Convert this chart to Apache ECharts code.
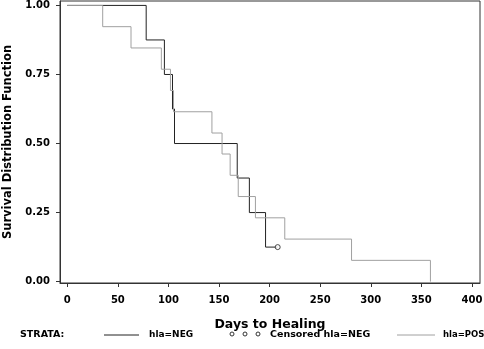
<!DOCTYPE html>
<html><head><meta charset="utf-8">
<script src="https://cdn.jsdelivr.net/npm/echarts@6/dist/echarts.min.js"></script>
<style>html,body{margin:0;padding:0;background:#fff}#c{width:484px;height:349px}</style>
</head><body><div id="c"></div>
<script>
// Kaplan-Meier step data (days, survival)
const negDays = [0, 78, 96, 104, 106, 168, 180, 196, 208];
const negSurv = [1, 0.875, 0.75, 0.625, 0.5, 0.375, 0.25, 0.125, 0.125];
const censoredDays = [208];
const censoredSurv = [0.125];
const posDays = [0, 35, 63, 93, 102, 105, 143, 153, 161, 169, 186, 215, 281, 359];
const posSurv = [1, 0.923, 0.846, 0.769, 0.692, 0.615, 0.538, 0.462, 0.385, 0.308, 0.231, 0.154, 0.077, 0];
const xTicks = [0, 50, 100, 150, 200, 250, 300, 350, 400];
const yTicks = [0, 0.25, 0.5, 0.75, 1];

const FONT = '"DejaVu Sans", sans-serif';
const zip = (a, b) => a.map((v, i) => [v, b[i]]);

const chart = echarts.init(document.getElementById('c'), null, {renderer: 'canvas'});
chart.setOption({
  animation: false,
  backgroundColor: '#fff',
  grid: {left: 60, right: 4, top: 1, bottom: 66, show: true, borderColor: '#333', borderWidth: 1,
         containLabel: false, outerBoundsMode: 'none'},
  xAxis: {
    type: 'value', min: -7.2, max: 408,
    name: 'Days to Healing', nameLocation: 'middle', nameGap: 35,
    nameTextStyle: {fontFamily: FONT, fontWeight: 'bold', fontSize: 12.5, color: '#000'},
    axisLine: {show: true, onZero: false, lineStyle: {color: '#333', width: 1}},
    axisTick: {show: true, length: 4, customValues: xTicks, lineStyle: {color: '#333'}},
    axisLabel: {customValues: xTicks, margin: 12, fontFamily: FONT, fontWeight: 'bold', fontSize: 10, color: '#000'},
    splitLine: {show: false}
  },
  yAxis: {
    type: 'value', min: -0.005, max: 1.016,
    name: 'Survival Distribution Function', nameLocation: 'middle', nameGap: 44,
    nameTextStyle: {fontFamily: FONT, fontWeight: 'bold', fontSize: 11.5, color: '#000'},
    axisLine: {show: true, onZero: false, lineStyle: {color: '#333', width: 1}},
    axisTick: {show: true, length: 4, customValues: yTicks, lineStyle: {color: '#333'}},
    axisLabel: {customValues: yTicks, margin: 10, fontFamily: FONT, fontWeight: 'bold', fontSize: 10, color: '#000',
      formatter: v => v.toFixed(2)},
    splitLine: {show: false}
  },
  series: [
    {name: 'hla=NEG', type: 'line', step: 'end', data: zip(negDays, negSurv), showSymbol: false,
     lineStyle: {color: '#222', width: 1}, z: 2},
    {name: 'hla=POS', type: 'line', step: 'end', data: zip(posDays, posSurv), showSymbol: false,
     lineStyle: {color: '#a0a0a0', width: 1}, z: 3},
    {name: 'Censored hla=NEG', type: 'scatter', data: zip(censoredDays, censoredSurv), symbol: 'circle', symbolSize: 5,
     itemStyle: {color: '#fff', borderColor: '#222', borderWidth: 1}, z: 4}
  ],
  graphic: [
    {type: 'text', left: 20, top: 330, style: {text: 'STRATA:', font: 'bold 9.5px ' + FONT, fill: '#000'}},
    {type: 'line', shape: {x1: 104, y1: 335, x2: 139, y2: 335}, style: {stroke: '#222', lineWidth: 1}},
    {type: 'text', left: 149, top: 330, style: {text: 'hla=NEG', font: 'bold 9px ' + FONT, fill: '#000'}},
    {type: 'circle', shape: {cx: 232, cy: 334, r: 2}, style: {fill: '#fff', stroke: '#333', lineWidth: 1}},
    {type: 'circle', shape: {cx: 245, cy: 334, r: 2}, style: {fill: '#fff', stroke: '#333', lineWidth: 1}},
    {type: 'circle', shape: {cx: 258, cy: 334, r: 2}, style: {fill: '#fff', stroke: '#333', lineWidth: 1}},
    {type: 'text', left: 270, top: 330, style: {text: 'Censored hla=NEG', font: 'bold 9.5px ' + FONT, fill: '#000'}},
    {type: 'line', shape: {x1: 397, y1: 335, x2: 435, y2: 335}, style: {stroke: '#a0a0a0', lineWidth: 1}},
    {type: 'text', left: 443, top: 330, style: {text: 'hla=POS', font: 'bold 8.5px ' + FONT, fill: '#000'}}
  ]
});
</script></body></html>
